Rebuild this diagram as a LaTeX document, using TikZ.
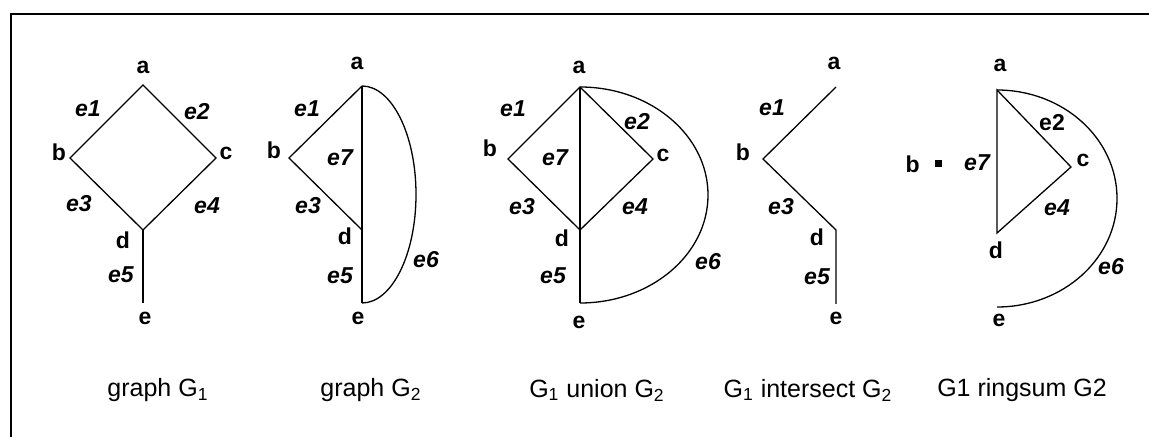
\documentclass[tikz,border=0pt]{standalone}
\usepackage{fontspec}
\setmainfont{Liberation Sans}
\usetikzlibrary{positioning}

\tikzset{
  vtx/.style={font=\fontsize{11.5}{13}\selectfont\bfseries, inner sep=0pt},
  elab/.style={font=\fontsize{11.5}{13}\selectfont\bfseries\itshape, inner sep=0pt},
  elabup/.style={font=\fontsize{11.5}{13}\selectfont\bfseries, inner sep=0pt},
  capt/.style={font=\fontsize{12.5}{14}\selectfont, inner sep=0pt},
  edge/.style={line width=0.65pt}
}

\begin{document}
\begin{tikzpicture}[x=0.5pt, y=-0.5pt]
\useasboundingbox (0,0) rectangle (1149,437);
% frame (only top and left sides show)
\coordinate (fbl) at (11,437);
\coordinate (ftl) at (11,14);
\coordinate (ftr) at (1149,14);
\draw[line width=0.8pt] (fbl) -- (ftl) -- (ftr);

% --- graph G1
\coordinate (g1a) at (143,85);
\coordinate (g1b) at (70,158);
\coordinate (g1c) at (216,158);
\coordinate (g1d) at (143,230);
\coordinate (g1e) at (143,303);
\draw[edge] (g1a) -- (g1b) -- (g1d) -- (g1c) -- cycle;
\draw[edge] (g1d) -- (g1e);
\node[vtx] (g1la) at (143,67) {a};
\node[vtx] (g1lb) at (59,152) {b};
\node[vtx] (g1lc) at (226,153) {c};
\node[vtx] (g1ld) at (123,240) {d};
\node[vtx] (g1le) at (145,318) {e};
\node[elab] (g1e1) at (88,109) {e1};
\node[elab] (g1e2) at (197,112) {e2};
\node[elab] (g1e3) at (79,204) {e3};
\node[elab] (g1e4) at (207,206) {e4};
\node[elab] (g1e5) at (121,275) {e5};
\node[capt] (g1cap) at (158,390) {graph G\textsubscript{1}};

% --- graph G2
\coordinate (g2a) at (362,86);
\coordinate (g2b) at (289,158);
\coordinate (g2d) at (362,230);
\coordinate (g2e) at (362,303);
\draw[edge] (g2a) -- (g2b) -- (g2d);
\draw[edge] (g2a) -- (g2d) -- (g2e);
\draw[edge] (g2a) arc[start angle=-90, end angle=90, x radius=54, y radius=108.5];
\node[vtx] (g2la) at (357,63) {a};
\node[vtx] (g2lb) at (274,150) {b};
\node[vtx] (g2ld) at (345,236) {d};
\node[vtx] (g2le) at (358,318) {e};
\node[elab] (g2e1) at (307,109) {e1};
\node[elab] (g2e7) at (340,158) {e7};
\node[elab] (g2e3) at (308,206) {e3};
\node[elab] (g2e5) at (340,276) {e5};
\node[elab] (g2e6) at (426,260) {e6};
\node[capt] (g2cap) at (371,390) {graph G\textsubscript{2}};

% --- G1 union G2
\coordinate (ua) at (580,87);
\coordinate (ub) at (508,159);
\coordinate (uc) at (653,159);
\coordinate (ud) at (580,230);
\coordinate (ue) at (580,303);
\draw[edge] (ua) -- (ub) -- (ud) -- (uc) -- cycle;
\draw[edge] (ua) -- (ud) -- (ue);
\draw[edge] (ua) arc[start angle=-90, end angle=90, x radius=128, y radius=108];
\node[vtx] (ula) at (579,67) {a};
\node[vtx] (ulb) at (490,148) {b};
\node[vtx] (ulc) at (663,155) {c};
\node[vtx] (uld) at (562,238) {d};
\node[vtx] (ule) at (579,322) {e};
\node[elab] (ue1) at (513,109) {e1};
\node[elab] (ue2) at (637,122) {e2};
\node[elab] (ue7) at (555,158) {e7};
\node[elab] (ue3) at (522,207) {e3};
\node[elab] (ue4) at (635,207) {e4};
\node[elab] (ue5) at (553,276) {e5};
\node[elab] (ue6) at (708,262) {e6};
\node[capt] (ucap) at (597,390) {G\textsubscript{1} union G\textsubscript{2}};

% --- G1 intersect G2
\coordinate (ia) at (836,87);
\coordinate (ib) at (763,159);
\coordinate (id) at (836,230);
\coordinate (ie) at (836,304);
\draw[edge] (ia) -- (ib) -- (id) -- (ie);
\node[vtx] (ila) at (834,63) {a};
\node[vtx] (ilb) at (743,152) {b};
\node[vtx] (ild) at (817,237) {d};
\node[vtx] (ile) at (836,318) {e};
\node[elab] (ie1) at (772,108) {e1};
\node[elab] (ie3) at (781,207) {e3};
\node[elab] (ie5) at (817,277) {e5};
\node[capt] (icap) at (808,390) {G\textsubscript{1} intersect G\textsubscript{2}};

% --- G1 ringsum G2
\coordinate (ra) at (997,90);
\coordinate (rc) at (1071,167);
\coordinate (rd) at (997,233);
\coordinate (re) at (997,307);
\node[fill, minimum size=3.5pt, inner sep=0pt] (rb) at (938,164) {};
\draw[edge] (ra) -- (rc) -- (rd) -- cycle;
\draw[edge] (ra) arc[start angle=-90, end angle=90, x radius=120, y radius=108.5];
\node[vtx] (rla) at (1000,65) {a};
\node[vtx, left=7pt of rb] (rlb) {b};
\node[vtx] (rlc) at (1083,160) {c};
\node[vtx] (rld) at (996,250) {d};
\node[vtx] (rle) at (999,320) {e};
\node[elabup] (re2) at (1052,123) {e2};
\node[elab] (re7) at (977,163) {e7};
\node[elab] (re4) at (1057,208) {e4};
\node[elab] (re6) at (1111,267) {e6};
\node[capt] (rcap) at (1022,390) {G1 ringsum G2};
\end{tikzpicture}
\end{document}
